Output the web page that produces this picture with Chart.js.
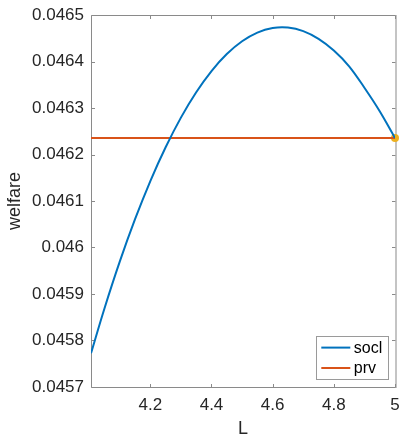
<!DOCTYPE html>
<html><head><meta charset="utf-8">
<script src="https://cdn.jsdelivr.net/npm/chart.js@4/dist/chart.umd.min.js"></script>
<style>html,body{margin:0;padding:0;background:#fff}#wrap{width:399px;height:436px}</style>
</head><body><div id="wrap"><canvas id="c" width="399" height="436"></canvas></div>
<script>
// ---- data ----
const L = [4.006, 4.05, 4.1, 4.15, 4.2, 4.25, 4.3, 4.35, 4.4, 4.45, 4.5, 4.55, 4.6, 4.65, 4.7, 4.75, 4.8, 4.85, 4.9, 4.95, 5.0];
const socl = [0.0457724, 0.0458689, 0.0459695, 0.0460608, 0.0461429, 0.0462155, 0.0462793, 0.0463339, 0.0463795, 0.0464160, 0.0464435, 0.0464622, 0.0464719, 0.0464729, 0.0464652, 0.0464486, 0.0464235, 0.0463896, 0.0463436, 0.0462931, 0.0462357];
const prvL = [4.006, 5.0];
const prv = [0.0462357, 0.0462357];
const markerL = [5.0];
const marker = [0.0462357];
const seriesNames = ['socl', 'prv'];
const xTicks = [4.2, 4.4, 4.6, 4.8, 5];
const xTickLabels = ['4.2', '4.4', '4.6', '4.8', '5'];
const yTicks = [0.0457, 0.0458, 0.0459, 0.0460, 0.0461, 0.0462, 0.0463, 0.0464, 0.0465];
const yTickLabels = ['0.0457', '0.0458', '0.0459', '0.046', '0.0461', '0.0462', '0.0463', '0.0464', '0.0465'];
const xTitle = 'L';
const yTitle = 'welfare';

const FONT = "'Liberation Sans', Arial, Helvetica, sans-serif";
const TXT = '#262626';
const AX = '#8a8a8a';
const C1 = '#0072BD', C2 = '#D95319', C3 = '#EDB120';

const toXY = (xs, ys) => xs.map((x, i) => ({x: x, y: ys[i]}));

const boxPlugin = {
  id: 'matlabBox',
  beforeDatasetsDraw(chart) {
    const {ctx, chartArea: a, scales} = chart;
    ctx.save();
    ctx.strokeStyle = AX;
    ctx.lineWidth = 1;
    const l = Math.round(a.left) + 0.5, r = Math.round(a.right) + 0.5;
    const t = Math.round(a.top) + 0.5, b = Math.round(a.bottom) + 0.5;
    ctx.beginPath();
    ctx.moveTo(l, t); ctx.lineTo(r, t);
    ctx.moveTo(l, t); ctx.lineTo(l, b); ctx.lineTo(r, b);
    ctx.stroke();
    ctx.strokeStyle = '#c4c4c4';
    ctx.lineWidth = 2;
    ctx.beginPath(); ctx.moveTo(r + 0.5, t - 0.5); ctx.lineTo(r + 0.5, b + 0.5); ctx.stroke();
    ctx.strokeStyle = AX; ctx.lineWidth = 1;
    const tl = 3.5;
    ctx.beginPath();
    scales.x.ticks.forEach(tk => {
      const px = Math.round(scales.x.getPixelForValue(tk.value)) + 0.5;
      ctx.moveTo(px, b); ctx.lineTo(px, b - tl);
      ctx.moveTo(px, t); ctx.lineTo(px, t + tl);
    });
    scales.y.ticks.forEach(tk => {
      const py = Math.round(scales.y.getPixelForValue(tk.value)) + 0.5;
      ctx.moveTo(l, py); ctx.lineTo(l + tl, py);
      ctx.moveTo(r, py); ctx.lineTo(r - tl, py);
    });
    ctx.stroke();
    ctx.restore();
  },
  afterDraw(chart) {
    const {ctx, chartArea: a} = chart;
    const w = 72, h = 43;
    const x0 = a.right - 6.7 - w, y0 = a.bottom - 7.7 - h;
    ctx.save();
    ctx.fillStyle = '#fff';
    ctx.fillRect(x0, y0, w, h);
    ctx.strokeStyle = '#9a9a9a';
    ctx.lineWidth = 1;
    ctx.strokeRect(Math.round(x0) + 0.5, Math.round(y0) + 0.5, w, h);
    const cols = [C1, C2];
    const rows = [11.3, 31.7];
    ctx.font = '16px ' + FONT;
    ctx.textBaseline = 'middle';
    ctx.textAlign = 'left';
    seriesNames.forEach((n, i) => {
      const yy = y0 + rows[i];
      ctx.strokeStyle = cols[i];
      ctx.lineWidth = 2;
      ctx.beginPath(); ctx.moveTo(x0 + 5, yy); ctx.lineTo(x0 + 34, yy); ctx.stroke();
      ctx.fillStyle = '#000';
      ctx.fillText(n, x0 + 37.5, yy + 0.5);
    });
    ctx.restore();
  }
};

new Chart(document.getElementById('c'), {
  type: 'line',
  data: {
    datasets: [
      {label: seriesNames[0], data: toXY(L, socl), borderColor: C1, borderWidth: 2, pointRadius: 0, tension: 0.35, fill: false},
      {label: seriesNames[1], data: toXY(prvL, prv), borderColor: C2, borderWidth: 2, pointRadius: 0, fill: false},
      {label: 'marker', data: toXY(markerL, marker), showLine: false, pointRadius: 4, pointBackgroundColor: C3, pointBorderColor: C3, pointBorderWidth: 0, clip: false}
    ]
  },
  options: {
    responsive: false,
    devicePixelRatio: 1,
    animation: false,
    layout: {padding: {top: 15, right: 4, left: 0, bottom: 0}},
    plugins: {legend: {display: false}, tooltip: {enabled: false}},
    scales: {
      x: {
        type: 'linear', min: 4.006, max: 5,
        afterBuildTicks: s => { s.ticks = xTicks.map(v => ({value: v})); },
        afterFit: s => { s.height = 49; s.paddingLeft = 0; s.paddingRight = 0; },
        ticks: {callback: v => xTickLabels[xTicks.indexOf(v)], font: {family: FONT, size: 17}, color: TXT, padding: 8, maxRotation: 0, autoSkip: false},
        grid: {display: false, drawTicks: false},
        border: {display: false},
        title: {display: true, text: xTitle, font: {family: FONT, size: 18}, color: TXT, padding: {top: 0, bottom: -4}}
      },
      y: {
        type: 'linear', min: 0.0457, max: 0.0465,
        afterBuildTicks: s => { s.ticks = yTicks.map(v => ({value: v})); },
        afterFit: s => { s.width = 91; s.paddingTop = 0; s.paddingBottom = 0; },
        ticks: {callback: v => yTickLabels[yTicks.indexOf(v)], font: {family: FONT, size: 17}, color: TXT, padding: 7, autoSkip: false},
        grid: {display: false, drawTicks: false},
        border: {display: false},
        title: {display: true, text: yTitle, font: {family: FONT, size: 18}, color: TXT, padding: {top: 4, bottom: 0}}
      }
    }
  },
  plugins: [boxPlugin]
});
</script>
</body></html>
